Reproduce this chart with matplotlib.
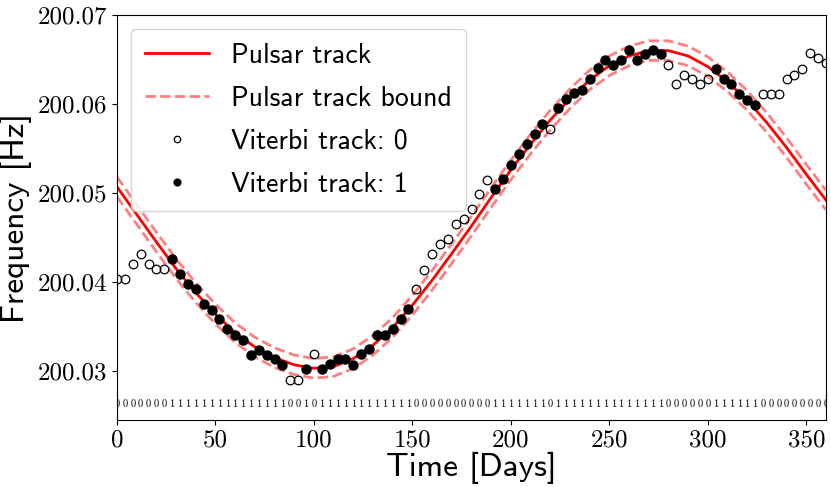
import matplotlib
matplotlib.use("Agg")
import matplotlib.pyplot as plt
import numpy as np

# ---------------- data ----------------
# Viterbi track samples (every 4 days)
viterbi_days = list(range(0, 361, 4))
viterbi_freq = [
    200.0403, 200.0403, 200.0420, 200.0431, 200.0420, 200.0415, 200.0415, 200.0426,
    200.0409, 200.0398, 200.0392, 200.0375, 200.0369, 200.0358, 200.0347, 200.0341,
    200.0335, 200.0318, 200.0324, 200.0318, 200.0313, 200.0307, 200.0290, 200.0290,
    200.0302, 200.0319, 200.0302, 200.0308, 200.0314, 200.0314, 200.0307, 200.0319,
    200.0325, 200.0341, 200.0341, 200.0347, 200.0358, 200.0370, 200.0392, 200.0414,
    200.0431, 200.0443, 200.0448, 200.0465, 200.0471, 200.0482, 200.0499, 200.0515,
    200.0504, 200.0516, 200.0532, 200.0544, 200.0555, 200.0566, 200.0578, 200.0572,
    200.0595, 200.0606, 200.0612, 200.0616, 200.0628, 200.0640, 200.0650, 200.0644,
    200.0650, 200.0661, 200.0650, 200.0656, 200.0661, 200.0656, 200.0644, 200.0622,
    200.0633, 200.0628, 200.0622, 200.0628, 200.0639, 200.0628, 200.0622, 200.0611,
    200.0605, 200.0599, 200.0611, 200.0611, 200.0611, 200.0628, 200.0633, 200.0639,
    200.0657, 200.0652, 200.0646,
]
viterbi_state = ("0000000" + "111111111111111" + "00" + "1" + "0" + "111111111111"
                 + "0000000000" + "1111111" + "0" + "11111111111111" + "000000"
                 + "111111" + "000000000")

# Pulsar track (read every 10 days)
track_days = list(range(0, 361, 10))
track_freq = [
    200.0507, 200.0476, 200.0445, 200.0415, 200.0388, 200.0364, 200.0343, 200.0327,
    200.0315, 200.0307, 200.0303, 200.0305, 200.0314, 200.0329, 200.0349, 200.0374,
    200.0402, 200.0432, 200.0463, 200.0495, 200.0526, 200.0555, 200.0582, 200.0606,
    200.0627, 200.0643, 200.0654, 200.0660, 200.0660, 200.0654, 200.0642, 200.0625,
    200.0604, 200.0579, 200.0551, 200.0521, 200.0492,
]
track_bound = 0.0011

x_ticks = [0, 50, 100, 150, 200, 250, 300, 350]
y_ticks = [200.03, 200.04, 200.05, 200.06, 200.07]

# ---------------- plot ----------------
W, H = 831, 487
fig = plt.figure(figsize=(W / 100, H / 100), dpi=100)
ax = fig.add_axes([117 / W, 1 - 420 / H, (826 - 117) / W, (420 - 15) / H])

vd = np.array(viterbi_days)
vf = np.array(viterbi_freq)
vs = np.array([int(c) for c in viterbi_state])
td = np.array(track_days)
tf = np.array(track_freq)

ax.plot(td, tf, color="red", lw=2, label="Pulsar track", zorder=2)
ax.plot(td, tf + track_bound, color="#ff7f7f", ls="--", lw=2,
        label="Pulsar track bound", zorder=2)
ax.plot(td, tf - track_bound, color="#ff7f7f", ls="--", lw=2, zorder=2)

ax.plot(vd[vs == 0], vf[vs == 0], "o", ls="none", mfc="none", mec="black",
        mew=0.9, ms=6.2, label="Viterbi track: 0", zorder=3)
ax.plot(vd[vs == 1], vf[vs == 1], "o", ls="none", color="black",
        ms=6.5, label="Viterbi track: 1", zorder=3)

for t, s in zip(viterbi_days, viterbi_state):
    ax.text(t, 200.0263, s, ha="center", va="center", fontsize=7.5,
            family="cmr10", clip_on=True)

ax.set_xlim(0, 360)
ax.set_ylim(200.0245, 200.07)
ax.set_xticks(x_ticks)
ax.set_yticks(y_ticks)
ax.set_xticklabels([str(v) for v in x_ticks], fontsize=18, family="cmr10")
ax.set_yticklabels([f"{v:.2f}" for v in y_ticks], fontsize=18, family="cmr10")

ax.set_xlabel("Time [Days]", fontsize=24, family="cmss10", labelpad=0)
ax.set_ylabel("Frequency [Hz]", fontsize=24, family="cmss10", labelpad=4)

ax.legend(loc="upper left", prop={"family": "cmss10", "size": 20},
          markerscale=0.75, handlelength=2.3, labelspacing=0.65,
          borderpad=0.5)

fig.savefig("out.png", dpi=100)
